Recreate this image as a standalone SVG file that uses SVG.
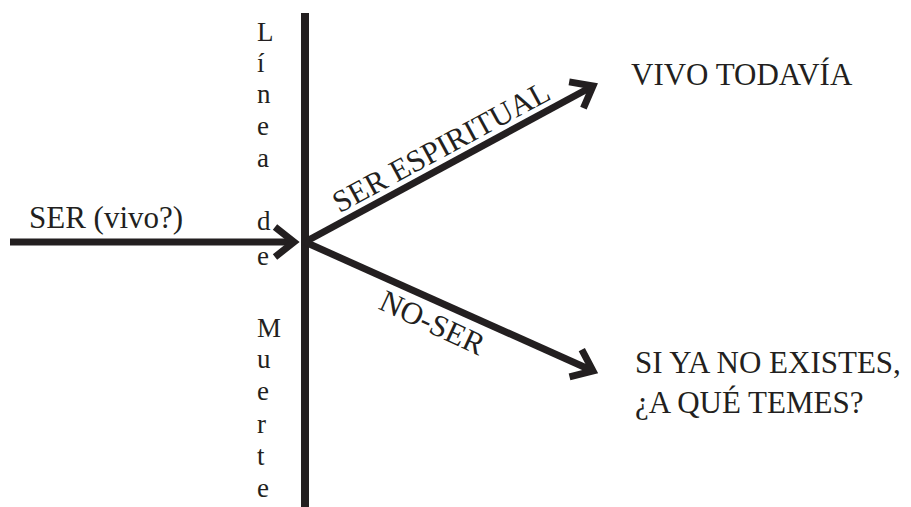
<svg xmlns="http://www.w3.org/2000/svg" width="911" height="507" viewBox="0 0 911 507">
<style>
  .t{font-family:"Liberation Serif","Times New Roman",serif;fill:#231f20;}
  .big{font-size:31px;}
  .v{font-size:27px;}
  .ln{stroke:#231f20;fill:none;stroke-width:7;}
</style>
<defs>
  <marker id="chev" markerUnits="userSpaceOnUse" viewBox="-30 -25 40 50" markerWidth="40" markerHeight="50" refX="0" refY="0" orient="auto" overflow="visible">
    <path d="M-19,-15 L0,0 L-19,15" fill="none" stroke="#231f20" stroke-width="7" stroke-linejoin="miter"/>
  </marker>
</defs>
<rect width="911" height="507" fill="#ffffff"/>
<g id="connectors">
  <line id="death-line" x1="305" y1="13" x2="305" y2="507" stroke="#231f20" stroke-width="8"/>
  <line class="ln" x1="10" y1="242" x2="294" y2="242" marker-end="url(#chev)"/>
  <line class="ln" x1="305" y1="242" x2="593" y2="86" marker-end="url(#chev)"/>
  <line class="ln" x1="305" y1="242" x2="593" y2="371" marker-end="url(#chev)"/>
  <text class="t big" text-anchor="middle" transform="translate(446,156) rotate(-28.4)">SER ESPIRITUAL</text>
  <text class="t big" text-anchor="middle" transform="translate(428,332) rotate(25)">NO-SER</text>
</g>
<g id="ser-vivo">
  <text class="t big" x="29" y="228">SER (vivo?)</text>
</g>
<g id="vivo-todavia">
  <text class="t big" x="631" y="85">VIVO TODAVÍA</text>
</g>
<g id="no-existes">
  <text class="t big" x="635" y="373">SI YA NO EXISTES,</text>
  <text class="t big" x="635" y="413">¿A QUÉ TEMES?</text>
</g>
<g id="linea-de-muerte">
  <text class="t v" x="257" y="41">L</text>
  <text class="t v" x="257" y="72">í</text>
  <text class="t v" x="257" y="103">n</text>
  <text class="t v" x="257" y="135">e</text>
  <text class="t v" x="257" y="167">a</text>
  <text class="t v" x="257" y="230">d</text>
  <text class="t v" x="257" y="265">e</text>
  <text class="t v" x="257" y="337">M</text>
  <text class="t v" x="257" y="368">u</text>
  <text class="t v" x="257" y="400">e</text>
  <text class="t v" x="257" y="433">r</text>
  <text class="t v" x="257" y="465">t</text>
  <text class="t v" x="257" y="497">e</text>
</g>
</svg>
